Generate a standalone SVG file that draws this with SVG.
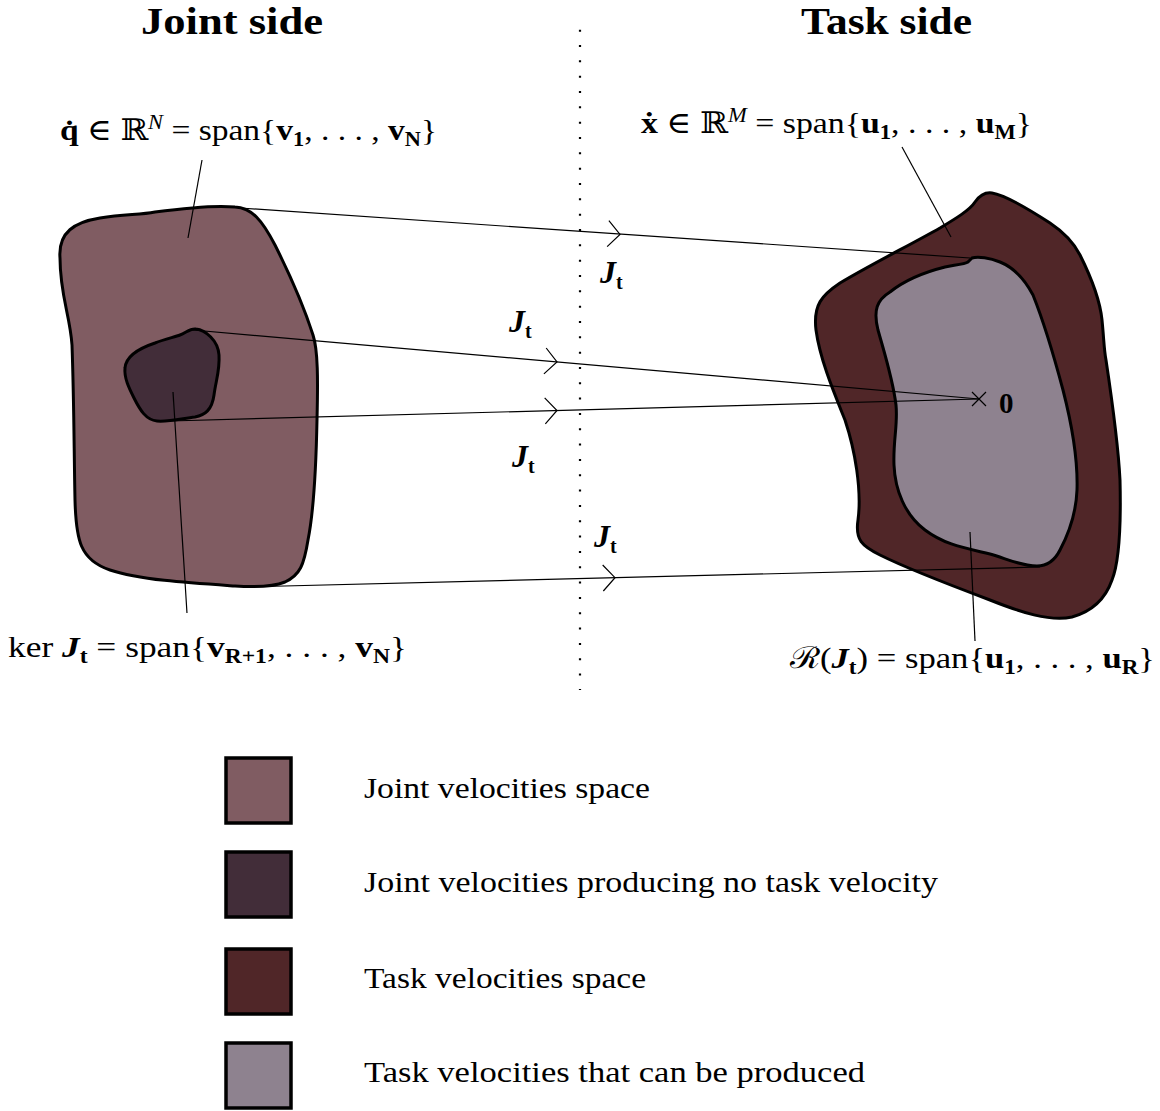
<svg xmlns="http://www.w3.org/2000/svg" xmlns:xlink="http://www.w3.org/1999/xlink" width="1160" height="1111" viewBox="0 0 1160 1111">
<style>
text { font-family: "Liberation Serif", "DejaVu Serif", serif; fill: #000; }
.title { font-size: 38px; font-weight: bold; }
.math { font-size: 30px; }
.jt { font-size: 32px; }
.leg { font-size: 30px; }
.b { font-weight: bold; }
.bi { font-weight: bold; font-style: italic; }
.sub { font-size: 20px; font-weight: bold; }
.sup { font-size: 20px; font-style: italic; }
.shape { stroke: #000; stroke-width: 3; stroke-linejoin: round; }
.conn { stroke: #000; stroke-width: 1.2; fill: none; }
.box { stroke: #000; stroke-width: 3.5; }
</style>
<defs>
<path id="chev" d="M -12,-13 L 0,0 L -12,13" fill="none" stroke="#000" stroke-width="1.2"/>
</defs>

<g id="titles">
<text class="title" x="141" y="34" textLength="182" lengthAdjust="spacingAndGlyphs">Joint side</text>
<text class="title" x="801" y="34" textLength="171" lengthAdjust="spacingAndGlyphs">Task side</text>
</g>

<line id="divider" x1="580" y1="29.7" x2="580" y2="690" stroke="#000" stroke-width="2.2" stroke-dasharray="2 13.33"/>

<g id="joint-space">
<path class="shape" fill="#805c62" d="M 60,258 C 58,232 75,222 100,218 C 125,214 140,215 155,212 C 185,208 215,205 235,207 C 252,208 262,220 275,245 C 290,275 305,310 313,335 C 318,350 318,380 317,420 C 316,470 314,510 308,540 C 304,565 300,575 285,582 C 270,588 250,587 235,586 C 190,583 140,580 110,570 C 80,560 76,540 75,500 C 74,450 74,400 72,345 C 70,315 60,295 60,258 Z"/>
</g>
<g id="kernel">
<path class="shape" fill="#422d39" d="M 180,335 C 186,333 190,328 196,329 C 205,330 218,340 219,355 C 220,370 216,380 214,395 C 212,410 205,415 195,417 C 180,419 168,422 157,421 C 146,420 140,410 134,398 C 129,388 124,378 125,368 C 126,355 140,348 155,343 C 165,339 175,337 180,335 Z"/>
</g>
<g id="task-space">
<path class="shape" fill="#502628" d="M 975,202 C 980,195 985,192 992,193 C 1005,195 1030,210 1050,223 C 1065,233 1075,245 1080,255 C 1090,275 1100,300 1102,320 C 1104,340 1104,350 1106,360 C 1112,400 1118,440 1120,480 C 1121,520 1120,560 1112,580 C 1105,600 1090,612 1072,617 C 1050,622 1020,612 990,600 C 950,585 910,570 880,555 C 862,546 855,540 858,520 C 862,490 855,450 845,420 C 835,395 820,360 816,330 C 813,305 822,295 840,283 C 870,265 910,245 940,228 C 955,219 970,210 975,202 Z"/>
</g>
<g id="range">
<path class="shape" fill="#8e828f" d="M 972,258 C 978,256 990,258 1000,262 C 1015,268 1025,280 1033,295 C 1045,325 1055,360 1063,390 C 1072,425 1078,460 1077,490 C 1076,515 1068,535 1060,550 C 1055,560 1047,566 1037,566 C 1020,566 1005,558 990,554 C 965,548 945,545 925,530 C 905,515 895,490 894,465 C 893,440 898,425 896,405 C 893,380 885,355 878,330 C 873,310 877,300 890,292 C 905,280 925,272 945,267 C 955,265 965,264 968,262 Z"/>
</g>

<g id="connectors">
<line class="conn" x1="240" y1="208" x2="970" y2="258"/>
<use xlink:href="#chev" transform="translate(620,234.4) rotate(3.86)"/>
<line class="conn" x1="193" y1="330" x2="979" y2="399"/>
<use xlink:href="#chev" transform="translate(557,362) rotate(5.0)"/>
<line class="conn" x1="170" y1="421" x2="979" y2="399"/>
<use xlink:href="#chev" transform="translate(557,410.5) rotate(-1.56)"/>
<line class="conn" x1="245" y1="587" x2="1040" y2="567"/>
<use xlink:href="#chev" transform="translate(615,577.7) rotate(-1.44)"/>
<path class="conn" d="M 972,392 L 986,406 M 972,406 L 986,392"/>
<line class="conn" x1="202" y1="160" x2="188" y2="238"/>
<line class="conn" x1="173" y1="392" x2="187" y2="613"/>
<line class="conn" x1="902" y1="147" x2="951" y2="237"/>
<line class="conn" x1="970" y1="532" x2="975" y2="641"/>
</g>

<g id="labels">
<text class="math" x="60" y="140" textLength="377" lengthAdjust="spacingAndGlyphs"><tspan class="b">q̇</tspan> ∈ ℝ<tspan class="sup" dy="-11">N</tspan><tspan dy="11"> = span{</tspan><tspan class="b">v</tspan><tspan class="sub" dy="6">1</tspan><tspan dy="-6">, . . . , </tspan><tspan class="b">v</tspan><tspan class="sub" dy="6">N</tspan><tspan dy="-6">}</tspan></text>
<text class="math" x="8" y="657" textLength="399" lengthAdjust="spacingAndGlyphs">ker <tspan class="bi">J</tspan><tspan class="sub" dy="6">t</tspan><tspan dy="-6"> = span{</tspan><tspan class="b">v</tspan><tspan class="sub" dy="6">R+1</tspan><tspan dy="-6">, . . . , </tspan><tspan class="b">v</tspan><tspan class="sub" dy="6">N</tspan><tspan dy="-6">}</tspan></text>
<text class="math" x="641" y="133" textLength="391" lengthAdjust="spacingAndGlyphs"><tspan class="b">ẋ</tspan> ∈ ℝ<tspan class="sup" dy="-11">M</tspan><tspan dy="11"> = span{</tspan><tspan class="b">u</tspan><tspan class="sub" dy="6">1</tspan><tspan dy="-6">, . . . , </tspan><tspan class="b">u</tspan><tspan class="sub" dy="6">M</tspan><tspan dy="-6">}</tspan></text>
<text class="math" x="790" y="668" textLength="365" lengthAdjust="spacingAndGlyphs">ℛ(<tspan class="bi">J</tspan><tspan class="sub" dy="6">t</tspan><tspan dy="-6">) = span{</tspan><tspan class="b">u</tspan><tspan class="sub" dy="6">1</tspan><tspan dy="-6">, . . . , </tspan><tspan class="b">u</tspan><tspan class="sub" dy="6">R</tspan><tspan dy="-6">}</tspan></text>
<text class="jt" x="600" y="283"><tspan class="bi">J</tspan><tspan class="sub" dy="6">t</tspan></text>
<text class="jt" x="509" y="332"><tspan class="bi">J</tspan><tspan class="sub" dy="6">t</tspan></text>
<text class="jt" x="512" y="467"><tspan class="bi">J</tspan><tspan class="sub" dy="6">t</tspan></text>
<text class="jt" x="594" y="547"><tspan class="bi">J</tspan><tspan class="sub" dy="6">t</tspan></text>
<text class="b" x="999" y="413" style="font-size:29px">0</text>
</g>

<g id="legend">
<g id="legend-joint"><rect class="box" x="226" y="758" width="65" height="65" fill="#805c62"/><text class="leg" x="364" y="798" textLength="286" lengthAdjust="spacingAndGlyphs">Joint velocities space</text></g>
<g id="legend-kernel"><rect class="box" x="226" y="852" width="65" height="65" fill="#422d39"/><text class="leg" x="364" y="892" textLength="574" lengthAdjust="spacingAndGlyphs">Joint velocities producing no task velocity</text></g>
<g id="legend-task"><rect class="box" x="226" y="949" width="65" height="65" fill="#502628"/><text class="leg" x="364" y="988" textLength="282" lengthAdjust="spacingAndGlyphs">Task velocities space</text></g>
<g id="legend-range"><rect class="box" x="226" y="1043" width="65" height="65" fill="#8e828f"/><text class="leg" x="364" y="1082" textLength="501" lengthAdjust="spacingAndGlyphs">Task velocities that can be produced</text></g>
</g>
</svg>
